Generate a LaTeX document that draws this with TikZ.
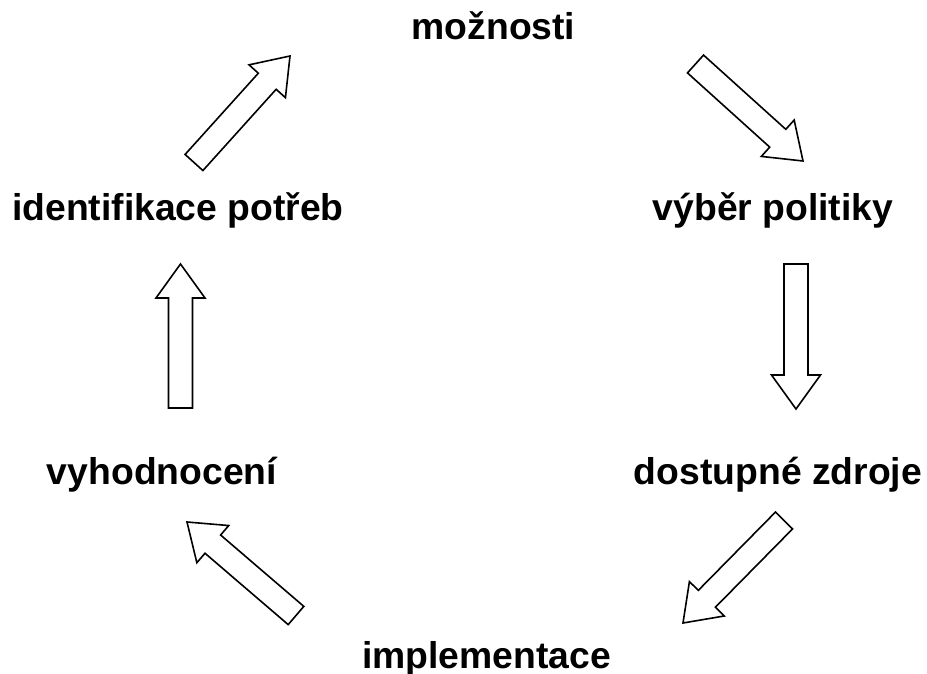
\documentclass[tikz,border=0pt]{standalone}
\usepackage{fontspec}
\setmainfont{Liberation Sans}
\usetikzlibrary{calc}
\tikzset{
  lbl/.style={font=\fontsize{37.3}{42}\selectfont\bfseries, anchor=base, inner sep=0pt},
  blk/.style={draw=black, line width=1.6pt, fill=white, line join=miter}
}
\newcommand\blockarrow[2]{%
  \coordinate (h) at ($(#2)!34pt!(#1)$);
  \draw[blk] ($(#1)!12pt!90:(#2)$) -- ($(h)!12pt!-90:(#1)$) -- ($(h)!24.5pt!-90:(#1)$) -- (#2)
    -- ($(h)!24.5pt!90:(#1)$) -- ($(h)!12pt!90:(#1)$) -- ($(#1)!12pt!-90:(#2)$) -- cycle;
}
\begin{document}
\begin{tikzpicture}[x=1pt,y=-1pt]
\useasboundingbox (0,0) rectangle (927,674);
\node[lbl] (moz) at (493.5,40) {možnosti};
\node[lbl] (vyb) at (773,220) {výběr politiky};
\node[lbl] (dos) at (778,484) {dostupné zdroje};
\node[lbl] (imp) at (486.5,668) {implementace};
\node[lbl] (vyh) at (162,484) {vyhodnocení};
\node[lbl] (ide) at (178,220) {identifikace potřeb};
\coordinate (a1) at (194,162.5); \coordinate (b1) at (290,56);
\coordinate (a2) at (695.5,64);  \coordinate (b2) at (803,161);
\coordinate (a3) at (796,264);   \coordinate (b3) at (796,409);
\coordinate (a4) at (784,520.5); \coordinate (b4) at (683,623);
\coordinate (a5) at (296,615.5); \coordinate (b5) at (187,522);
\coordinate (a6) at (180.5,408); \coordinate (b6) at (180.5,264);
\blockarrow{a1}{b1}
\blockarrow{a2}{b2}
\blockarrow{a3}{b3}
\blockarrow{a4}{b4}
\blockarrow{a5}{b5}
\blockarrow{a6}{b6}
\end{tikzpicture}
\end{document}
